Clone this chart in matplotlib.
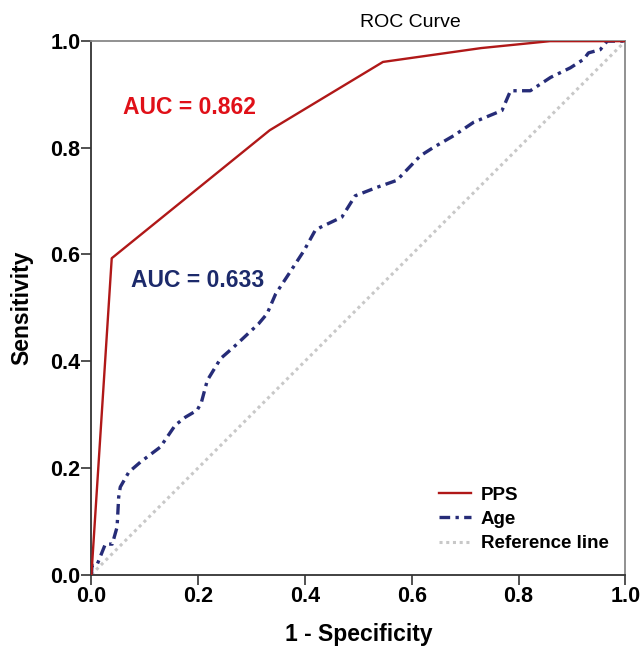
import matplotlib
matplotlib.use("Agg")
import matplotlib.pyplot as plt
from matplotlib.lines import Line2D

plt.rcParams['font.family'] = ['Liberation Sans', 'DejaVu Sans']

# ---- data ----
pps_fpr = [0.0, 0.038, 0.334, 0.546, 0.73, 0.859, 1.0]
pps_tpr = [0.0, 0.593, 0.833, 0.961, 0.987, 1.0, 1.0]

age_fpr = [0.0, 0.001, 0.01, 0.026, 0.039, 0.048, 0.051, 0.054, 0.07, 0.092,
           0.129, 0.157, 0.176, 0.198, 0.206, 0.217, 0.242, 0.266, 0.313,
           0.329, 0.345, 0.37, 0.398, 0.419, 0.429, 0.469, 0.494, 0.535,
           0.572, 0.616, 0.641, 0.679, 0.716, 0.769, 0.785, 0.822, 0.86,
           0.897, 0.922, 0.931, 0.953, 0.966, 1.0]
age_tpr = [0.0, 0.017, 0.017, 0.057, 0.057, 0.089, 0.145, 0.164, 0.192, 0.211,
           0.239, 0.28, 0.295, 0.308, 0.323, 0.364, 0.405, 0.426, 0.47,
           0.489, 0.526, 0.564, 0.607, 0.645, 0.651, 0.67, 0.71, 0.726,
           0.739, 0.785, 0.801, 0.823, 0.848, 0.87, 0.907, 0.907, 0.932,
           0.95, 0.966, 0.978, 0.984, 1.0, 1.0]

ref_x = [0.0, 1.0]
ref_y = [0.0, 1.0]

ticks = [0.0, 0.2, 0.4, 0.6, 0.8, 1.0]
tick_labels = ['0.0', '0.2', '0.4', '0.6', '0.8', '1.0']

red = '#b01818'
navy = '#262c78'
gray = '#c8c8c8'

fig = plt.figure(figsize=(6.44, 6.53), dpi=100, facecolor='white')
ax = fig.add_axes([0.142, 0.1202, 0.829, 0.8168])

ax.plot(ref_x, ref_y, color=gray, lw=2.2, linestyle=(0, (1, 1.2)), zorder=1)
ax.plot(age_fpr, age_tpr, color=navy, lw=2.4, linestyle=(0, (3.2, 1.6, 1, 1.6)),
        zorder=2)
ax.plot(pps_fpr, pps_tpr, color=red, lw=1.7, zorder=3)

ax.set_xlim(0, 1)
ax.set_ylim(0, 1)
ax.set_xticks(ticks)
ax.set_xticklabels(tick_labels)
ax.set_yticks(ticks)
ax.set_yticklabels(tick_labels)
ax.tick_params(direction='out', length=7, width=1.2, color='#333333',
               labelsize=15.5, pad=1)
for lab in ax.get_xticklabels() + ax.get_yticklabels():
    lab.set_fontweight('bold')

for side in ['left', 'bottom']:
    ax.spines[side].set_color('#333333')
    ax.spines[side].set_linewidth(1.3)
for side in ['top', 'right']:
    ax.spines[side].set_color('#888888')
    ax.spines[side].set_linewidth(1.3)

ax.set_xlabel('1 - Specificity', fontsize=16.5, fontweight='bold', labelpad=12)
ax.set_ylabel('Sensitivity', fontsize=16.5, fontweight='bold', labelpad=12)

fig.text(0.637, 0.966, 'ROC Curve', fontsize=14, fontweight='medium',
         ha='center', va='center')

ax.text(0.06, 0.875, 'AUC = 0.862', color='#e01018', fontsize=16.5,
        fontweight='bold', va='center')
ax.text(0.075, 0.552, 'AUC = 0.633', color='#1c2a6b', fontsize=16.5,
        fontweight='bold', va='center')

handles = [Line2D([], [], color=red, lw=1.7),
           Line2D([], [], color=navy, lw=2.4, linestyle=(0, (3.2, 1.6, 1, 1.6))),
           Line2D([], [], color=gray, lw=2.2, linestyle=(0, (1, 1.2)))]
ax.legend(handles, ['PPS', 'Age', 'Reference line'], loc='lower right',
          frameon=False, prop={'size': 13.5, 'weight': 'bold'},
          handlelength=1.7, handletextpad=0.5, labelspacing=0.38,
          bbox_to_anchor=(1.0, 0.01))

fig.savefig('out.png', dpi=100, facecolor='white')
